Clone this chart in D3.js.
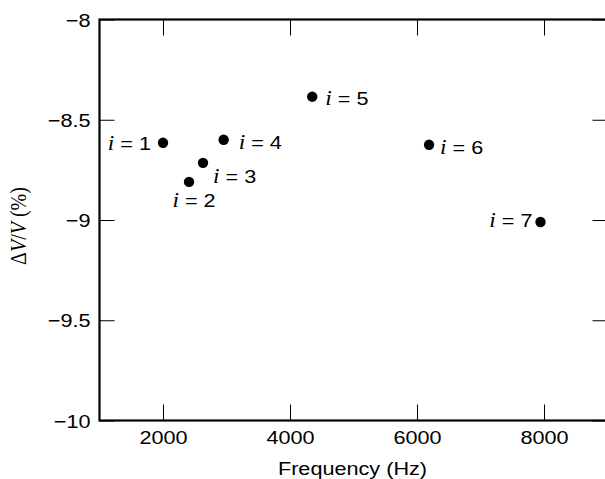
<!DOCTYPE html>
<html><head><meta charset="utf-8">
<script src="https://cdn.jsdelivr.net/npm/d3@7"></script>
<style>body{margin:0;background:#fff}</style>
</head><body>
<svg id="c" width="605" height="479"></svg>
<script>
// data
const labels = ["1","2","3","4","5","6","7"];
const freq = [2000, 2410, 2630, 2955, 4350, 6190, 7945];
const dvv = [-8.615, -8.81, -8.715, -8.60, -8.385, -8.625, -9.01];
const xTicks = [2000, 4000, 6000, 8000];
const yTicks = [-8, -8.5, -9, -9.5, -10];
// label placement (style)
const place = [
  {anchor:"end", dx:-12, dy:7},
  {anchor:"middle", dx:5, dy:25},
  {anchor:"start", dx:10, dy:20},
  {anchor:"start", dx:15, dy:9},
  {anchor:"start", dx:13, dy:8},
  {anchor:"start", dx:11, dy:9},
  {anchor:"end", dx:-8, dy:5}
];

const svg = d3.select("#c");
const L=99.5, R=607.5, T=19.5, B=420.5;
const x = d3.scaleLinear().domain([1000,9000]).range([L,R]);
const y = d3.scaleLinear().domain([-10,-8]).range([B,T]);
const SX = 1.17;
const sans = "'Liberation Sans', Arial, Helvetica, sans-serif";
const serif = "'Liberation Serif', 'Times New Roman', serif";
const fmt = d => d3.format("")(d).replace("-", "\u2212");

function styleAxis(g){
  g.select(".domain").remove();
  g.selectAll(".tick line").attr("stroke","#000").attr("stroke-width",1);
}
// bottom
svg.append("g").attr("transform",`translate(0,${B})`)
  .call(d3.axisBottom(x).tickValues(xTicks).tickSize(-16).tickPadding(0).tickFormat(d3.format("d")))
  .call(styleAxis)
  .call(g=>g.selectAll(".tick text").attr("y",24).attr("dy",null)
     .attr("font-family",sans).attr("font-size",18.5).attr("fill","#000")
     .attr("transform",`scale(${SX},1)`));
// top
svg.append("g").attr("transform",`translate(0,${T})`)
  .call(d3.axisTop(x).tickValues(xTicks).tickSize(-16).tickFormat(""))
  .call(styleAxis);
// left
svg.append("g").attr("transform",`translate(${L},0)`)
  .call(d3.axisLeft(y).tickValues(yTicks).tickSize(-15).tickFormat(fmt))
  .call(styleAxis)
  .call(g=>g.selectAll(".tick text").attr("x",-9/SX).attr("dy","0.36em")
     .attr("font-family",sans).attr("font-size",18.5).attr("fill","#000")
     .attr("transform",`scale(${SX},1)`));
// right
svg.append("g").attr("transform",`translate(${R},0)`)
  .call(d3.axisRight(y).tickValues(yTicks).tickSize(-15).tickFormat(""))
  .call(styleAxis);

// frame
svg.append("rect").attr("x",L).attr("y",T).attr("width",R-L).attr("height",B-T)
  .attr("fill","none").attr("stroke","#000").attr("stroke-width",2.2);

// axis titles
svg.append("text").attr("transform",`translate(${(L+R)/2 - 1},475) scale(${SX},1)`)
  .attr("text-anchor","middle").attr("font-family",sans).attr("font-size",18.5)
  .text("Frequency (Hz)");
const yl = svg.append("text").attr("transform",`translate(26,226) rotate(-90) scale(1,${SX})`)
  .attr("text-anchor","middle").attr("font-family",serif).attr("font-size",20);
yl.append("tspan").text("\u0394");
yl.append("tspan").attr("font-style","italic").text("V");
yl.append("tspan").text("/");
yl.append("tspan").attr("font-style","italic").text("V");
yl.append("tspan").text(" (%)");

// points
const pts = labels.map((l,i)=>({l, f:freq[i], v:dvv[i], p:place[i]}));
svg.append("g").selectAll("circle").data(pts).join("circle")
  .attr("cx",d=>x(d.f)).attr("cy",d=>y(d.v)).attr("r",5.2).attr("fill","#000");

const lab = svg.append("g").selectAll("text").data(pts).join("text")
  .attr("transform",d=>`translate(${x(d.f)+d.p.dx},${y(d.v)+d.p.dy}) scale(${SX},1)`)
  .attr("text-anchor",d=>d.p.anchor).attr("font-size",18.5).attr("font-family",sans);
lab.append("tspan").attr("font-family",serif).attr("font-style","italic").attr("font-size",20).text("i");
lab.append("tspan").text(d=>" = "+d.l);
</script>
</body></html>
